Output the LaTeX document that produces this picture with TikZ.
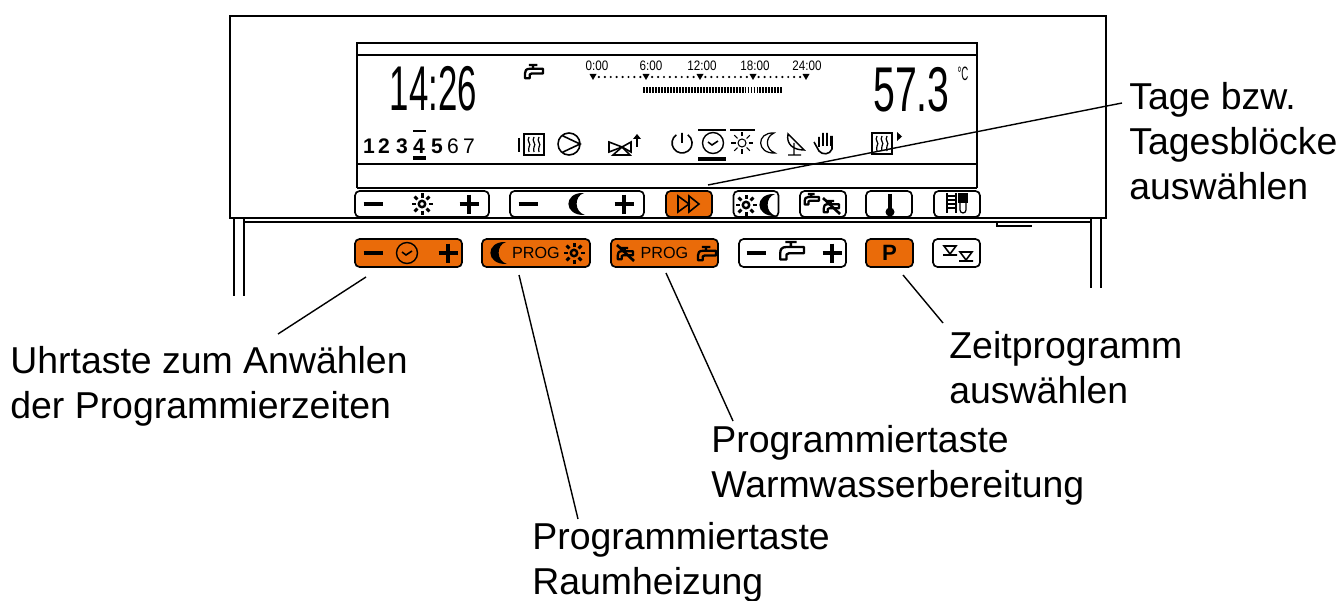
\documentclass[tikz,border=0pt]{standalone}
\usepackage{fontspec}
\setmainfont{Liberation Sans}
\definecolor{keyorange}{HTML}{EA6B09}
\tikzset{
  key/.style={draw=black, line width=0.95pt, rounded corners=2.6pt, minimum height=#1*0.02cm, inner sep=0pt},
  lbl/.style={inner sep=0pt, anchor=west, align=left, font=\fontsize{21.3}{25.6}\selectfont},
  lead/.style={line width=0.8pt},
  frame/.style={line width=0.85pt},
  lcd/.style={inner sep=0pt, font=\fontsize{36}{36}\selectfont},
  lcdsmall/.style={inner sep=0pt, xscale=0.85, font=\fontsize{7.8}{8}\selectfont},
  sign/.style={line width=2.2pt},
  minuskey/.pic={\draw[sign] (-9.5,0) -- (9.5,0);},
  pluskey/.pic={\draw[sign] (-9.5,0) -- (9.5,0) (0,-9.5) -- (0,9.5);},
  sunkey/.pic={\draw[line width=1.4pt] (0,0) circle (3.2);
    \foreach \a in {0,45,...,315} \draw[line width=1.7pt] (\a:6.5) -- (\a:10.5);},
  sunthin/.pic={\draw[line width=0.6pt] (0,0) circle (4);
    \foreach \a in {0,45,...,315} \draw[line width=0.6pt] (\a:6.5) -- (\a:11);},
  moonkey/.pic={\fill (8,-11) .. controls (-13,-12) and (-13,12) .. (9,11)
    .. controls (-2,8) and (-2,-8) .. (8,-11) -- cycle;},
  moonthin/.pic={\draw[line width=0.7pt] (6,-10) .. controls (-12,-11) and (-12,11) .. (7,10)
    .. controls (-3,6) and (-3,-6) .. (6,-10) -- cycle;},
  clockface/.pic={\draw[line width=0.8pt] (0,0) circle (10.5);
    \draw[line width=0.9pt] (-5,-1) -- (-1,2) -- (5,-2);},
  tapkey/.pic={\draw[line width=1.3pt, line join=round] (5,0) -- (14,0) (9.5,0) -- (9.5,4)
    (20,4) -- (6,4) .. controls (2,4) and (1,6) .. (1,9) -- (1,14) -- (6,14) -- (6,10) -- (8,9) -- (20,9) -- cycle;},
  notap/.pic={\pic[scale=0.8] at (-8,-5) {tapkey}; \draw[line width=1.5pt] (-8,-8) -- (9,8);},
  radiator/.pic={\draw[line width=0.9pt] (0,0) rectangle (20,21);
    \foreach \i in {5,10,15} \draw[line width=0.7pt] (\i,3) .. controls (\i-3,7) and (\i+3,10) .. (\i,13) .. controls (\i-2,15) and (\i+1,17) .. (\i,18);},
  droptri/.pic={\draw[line width=0.9pt] (-6,-4) -- (6,-4) -- (0,4) -- cycle (-7,5) -- (7,5);}
}
\begin{document}
\begin{tikzpicture}[x=0.02cm, y=-0.02cm]
  \useasboundingbox (0,0) rectangle (1344,601);
  \draw[frame] (230,218) -- (230,16) -- (1106,16) -- (1106,218) -- cycle;
  \draw[frame] (245,222) -- (1091,222);
  \draw[frame] (234,218) -- (234,296) (244,218) -- (244,296);
  \draw[frame] (1091,218) -- (1091,288) (1101,218) -- (1101,288);
  \draw[frame] (997,222) -- (997,226) -- (1032,226);
  \draw[frame] (357,188) -- (357,43) -- (977,43) -- (977,188);
  \draw[frame] (357,55) -- (977,55) (357,164) -- (977,164);
  \draw[line width=1pt] (357,188) -- (977,188);

  \foreach \nm/\xm/\keyw/\col in {keysun/422/134/white, keymoon/577/134/white, keynext/689/46/keyorange, keymode/756/45/white, keytap/823/46/white, keytemp/889/46/white, keyinfo/957/46/white}
    \node[key=26, fill=\col, minimum width=\keyw*0.02cm] (\nm) at (\xm,204) {};
  \node[key=28, fill=keyorange, minimum width=107*0.02cm] (keyclock) at (408.5,253) {};
  \node[key=28, fill=keyorange, minimum width=108*0.02cm, font=\fontsize{9.2}{10}\selectfont] (keyprogroom) at (536,253) {PROG};
  \node[key=28, fill=keyorange, minimum width=107*0.02cm, font=\fontsize{9.2}{10}\selectfont] (keyprogwater) at (664.5,253) {PROG};
  \node[key=28, fill=white, minimum width=107*0.02cm] (keywater) at (792.5,253) {};
  \node[key=28, fill=keyorange, minimum width=47*0.02cm, font=\bfseries\fontsize{12.6}{13}\selectfont] (keyp) at (889.5,253) {P};
  \node[key=28, fill=white, minimum width=47*0.02cm] (keylevel) at (956.5,253) {};

  \pic at (373,204) {minuskey}; \pic at (469,204) {pluskey}; \pic at (422,204) {sunkey};
  \pic at (528,204) {minuskey}; \pic at (624,204) {pluskey}; \pic at (576,204) {moonkey};
  \draw[line width=0.9pt] (678,196) -- (689,204) -- (678,212) -- cycle (689,196) -- (699,204) -- (689,212) -- cycle;
  \pic at (746,205) {sunkey}; \pic at (767,205) {moonkey};
  \pic[scale=0.75] at (804,194) {tapkey}; \pic at (831,206) {notap};
  \draw[line width=1.8pt] (890,194) -- (890,210); \fill (890,212) circle (4.5);
  \draw[line width=0.9pt] (947,193) -- (947,213) (956,193) -- (956,213);
  \foreach \y in {196,200,204,208} \draw[line width=0.7pt] (947,\y) -- (956,\y);
  \fill (958,193) rectangle (968,203);
  \draw[line width=0.7pt] (960,203) -- (960,210) arc (180:0:3) -- (966,203);

  \pic at (373,253) {minuskey}; \pic at (448,253) {pluskey}; \pic at (407,253) {clockface};
  \pic at (498,253) {moonkey}; \pic at (574,253) {sunkey};
  \pic at (625,253) {notap}; \pic[scale=0.95] at (697,247) {tapkey};
  \pic at (756,253) {minuskey}; \pic at (832,253) {pluskey}; \pic[scale=1.25] at (779,242) {tapkey};
  \pic at (950,250) {droptri}; \pic at (966,256) {droptri};

  \node[lcd, xscale=0.55, yscale=1] (time) at (433.5,89) {14:26};
  \node[lcd, xscale=0.62] (temp) at (911.5,90) {57.3};
  \node[inner sep=0pt, xscale=0.5, font=\fontsize{11}{11}\selectfont] (unit) at (963,74) {°C};
  \foreach \nm/\xm/\txt in {tzero/597/0:00, tsix/651/6:00, ttwelve/702/12:00, teighteen/755/18:00, tend/807/24:00}
    \node[lcdsmall] (\nm) at (\xm,66) {\txt};
  \foreach \xm in {593,646,700,753,806}
    \fill (\xm-3.5,74) -- (\xm+3.5,74) -- (\xm,80) -- cycle;
  \foreach \i in {1,...,35}
    \fill ({593+\i*213/36},77) circle (1.2);
  \draw[line width=3.4pt, dash pattern=on 1.1pt off 0.6pt] (643,90) -- (783,90);
  \pic[scale=0.95] at (524,65) {tapkey};

  \foreach \nm/\xm/\txt in {dayone/369/1, daytwo/384/2, daythree/402/3, dayfour/419/4, dayfive/437/5}
    \node[inner sep=0pt, font=\bfseries\fontsize{12}{12}\selectfont] (\nm) at (\xm,146) {\txt};
  \foreach \nm/\xm/\txt in {daysix/453/6, dayseven/469/7}
    \node[inner sep=0pt, font=\fontsize{12}{12}\selectfont] (\nm) at (\xm,146) {\txt};
  \draw[line width=0.8pt] (413,131) -- (426,131);
  \draw[line width=2pt] (413,158) -- (426,158);

  \draw[line width=1.4pt] (519,138) -- (519,152);
  \pic at (524,134) {radiator};
  \draw[line width=0.9pt] (569,144) circle (11) (562,135.5) -- (580,144) -- (562,152.5);
  \draw[line width=0.9pt] (609,142) -- (622,147) -- (609,152) -- cycle (631,142) -- (622,147) -- (631,152) -- cycle;
  \draw[line width=0.9pt] (622,147) -- (613,155) -- (630,155) -- cycle;
  \draw[line width=1.1pt] (637,147) -- (637,136);
  \fill (633,139) -- (641,139) -- (637,134) -- cycle;

  \draw[line width=0.9pt] (676.3,134.8) arc (-125:-415:10) (682,133) -- (682,143);
  \pic at (713,143) {clockface};
  \draw[line width=1.2pt] (698,130) -- (726,130); \draw[line width=2.4pt] (698,159) -- (726,159);
  \pic at (742,143) {sunthin}; \draw[line width=1.2pt] (730,130) -- (755,130);
  \pic at (768,143) {moonthin};
  \draw[line width=0.8pt] (788,134) .. controls (786,144) and (793,150) .. (804,150) -- cycle (794,143) -- (794,155) (788,155) -- (801,155);
  \draw[line width=0.9pt] (814,142) -- (819,151) .. controls (822,155) and (830,155) .. (832,149) -- (832,136) (819,147) -- (819,137) (823,146) -- (823,133) (827,146) -- (827,133) (831,146) -- (831,136);
  \pic at (872,133) {radiator};
  \fill (897,132) -- (902,136.5) -- (897,141) -- cycle;

  \node[lbl] (lbltage) at (1129,141) {Tage bzw.\\Tagesblöcke\\auswählen};
  \node[lbl] (lbluhr) at (10,386) {Uhrtaste zum Anwählen\\der Programmierzeiten};
  \node[lbl] (lblraum) at (532,562) {Programmiertaste\\Raumheizung};
  \node[lbl] (lblwarm) at (711,465) {Programmiertaste\\Warmwasserbereitung};
  \node[lbl] (lblzeit) at (949,368) {Zeitprogramm\\auswählen};

  \coordinate (tagea) at (1122,103); \coordinate (tageb) at (708,185);
  \coordinate (uhra) at (278,334); \coordinate (uhrb) at (366,277);
  \coordinate (rauma) at (578,519); \coordinate (raumb) at (519,275);
  \coordinate (warma) at (733,421); \coordinate (warmb) at (666,273);
  \coordinate (zeita) at (943,323); \coordinate (zeitb) at (903,275);
  \draw[lead] (tagea) -- (tageb);
  \draw[lead] (uhra) -- (uhrb);
  \draw[lead] (rauma) -- (raumb);
  \draw[lead] (warma) -- (warmb);
  \draw[lead] (zeita) -- (zeitb);
\end{tikzpicture}
\end{document}
